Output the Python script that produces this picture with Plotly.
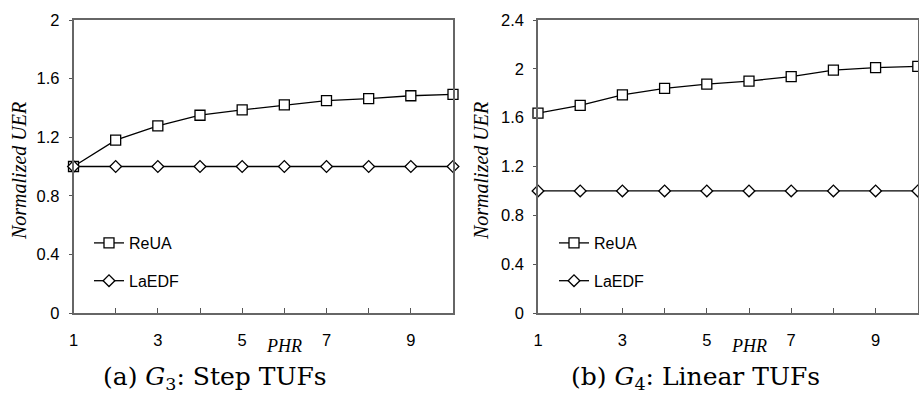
import plotly.graph_objects as go

phr = [1, 2, 3, 4, 5, 6, 7, 8, 9, 10]
x_tick_text = ["1", "", "3", "", "5", "", "7", "", "9", ""]

# (a) G3: Step TUFs
reua_step = [1.0, 1.18, 1.277, 1.35, 1.386, 1.42, 1.449, 1.463, 1.483, 1.493]
laedf_step = [1.0, 1.0, 1.0, 1.0, 1.0, 1.0, 1.0, 1.0, 1.0, 1.0]
y_ticks_a = [0, 0.4, 0.8, 1.2, 1.6, 2.0]
y_text_a = ["0", "0.4", "0.8", "1.2", "1.6", "2"]

# (b) G4: Linear TUFs
reua_lin = [1.637, 1.70, 1.787, 1.84, 1.874, 1.90, 1.936, 1.99, 2.01, 2.02]
laedf_lin = [1.0, 1.0, 1.0, 1.0, 1.0, 1.0, 1.0, 1.0, 1.0, 1.0]
y_ticks_b = [0, 0.4, 0.8, 1.2, 1.6, 2.0, 2.4]
y_text_b = ["0", "0.4", "0.8", "1.2", "1.6", "2", "2.4"]

W, H = 919, 398
SANS = "Liberation Sans, Arial, sans-serif"
SERIF = "Liberation Serif, Times New Roman, serif"
CAPSERIF = "DejaVu Serif, serif"

fig = go.Figure()

def add_pair(reua, laedf, xa, ya, leg):
    fig.add_trace(go.Scatter(
        x=phr, y=reua, xaxis=xa, yaxis=ya, name="ReUA", legend=leg,
        legendgroup=leg + "r", mode="lines+markers", cliponaxis=False,
        line=dict(color="black", width=1.3),
        marker=dict(symbol="square", size=10, color="white",
                    line=dict(color="black", width=1.3))))
    fig.add_trace(go.Scatter(
        x=phr, y=laedf, xaxis=xa, yaxis=ya, name="LaEDF", legend=leg,
        legendgroup=leg + "l", mode="lines+markers", cliponaxis=False,
        line=dict(color="black", width=1.3),
        marker=dict(symbol="diamond", size=9, color="white",
                    line=dict(color="black", width=1.3))))

add_pair(reua_step, laedf_step, "x", "y", "legend")
add_pair(reua_lin, laedf_lin, "x2", "y2", "legend2")

ydom = [1 - 313 / H, 1 - 20 / H]
xdom_a = [73.5 / W, 453 / W]
xdom_b = [538 / W, 917.8 / W]

xaxis_common = dict(
    range=[1, 10], tickvals=phr, ticktext=x_tick_text, ticks="inside",
    ticklen=5, tickcolor="#555", showline=True, mirror=True,
    linecolor="#666", linewidth=1.5, showgrid=False, zeroline=False,
    automargin=False,
    tickfont=dict(family=SANS, size=16.5, color="black"),
    ticklabelstandoff=11)

yaxis_common = dict(
    ticks="outside", ticklen=3, tickcolor="#555", showline=True,
    mirror=True, linecolor="#666", linewidth=1.5, showgrid=False,
    zeroline=False, automargin=False,
    tickfont=dict(family=SANS, size=16.5, color="black"),
    ticklabelstandoff=6)

legend_common = dict(
    font=dict(family=SANS, size=16, color="black"),
    bgcolor="rgba(0,0,0,0)", borderwidth=0, tracegroupgap=14,
    xanchor="left", yanchor="middle", itemwidth=30)

fig.update_layout(
    template="none",
    width=W, height=H, margin=dict(l=0, r=0, t=0, b=0, autoexpand=False),
    paper_bgcolor="white", plot_bgcolor="white",
    xaxis=dict(domain=xdom_a, anchor="y", **xaxis_common),
    yaxis=dict(domain=ydom, anchor="x", range=[0, 2], tickvals=y_ticks_a,
               ticktext=y_text_a, **yaxis_common),
    xaxis2=dict(domain=xdom_b, anchor="y2", **xaxis_common),
    yaxis2=dict(domain=ydom, anchor="x2", range=[0, 2.4], tickvals=y_ticks_b,
                ticktext=y_text_b, **yaxis_common),
    legend=dict(x=89 / W, y=1 - 262 / H, **legend_common),
    legend2=dict(x=554 / W, y=1 - 262 / H, **legend_common),
    showlegend=True,
)

ann = []
for cx, txt in [(19, "Normalized UER"), (481, "Normalized UER")]:
    ann.append(dict(x=cx / W, y=1 - 171 / H, xref="paper", yref="paper",
                    xanchor="center", yanchor="middle",
                    text="<i>" + txt + "</i>", textangle=-90, showarrow=False,
                    font=dict(family=SERIF, size=20, color="black")))
for xr in ["x", "x2"]:
    ann.append(dict(x=6, xref=xr, y=1 - 346 / H, yref="paper",
                    xanchor="center", yanchor="middle",
                    text="<i>PHR</i>", showarrow=False,
                    font=dict(family=SERIF, size=18, color="black")))
ann.append(dict(x=215 / W, y=1 - 378 / H, xref="paper", yref="paper",
                xanchor="center", yanchor="middle",
                text="(a) <i>G</i><sub>3</sub>: Step TUFs", showarrow=False,
                font=dict(family=CAPSERIF, size=25, color="black")))
ann.append(dict(x=695 / W, y=1 - 378 / H, xref="paper", yref="paper",
                xanchor="center", yanchor="middle",
                text="(b) <i>G</i><sub>4</sub>: Linear TUFs", showarrow=False,
                font=dict(family=CAPSERIF, size=25, color="black")))
fig.update_layout(annotations=ann)

fig.write_html("out.html")
